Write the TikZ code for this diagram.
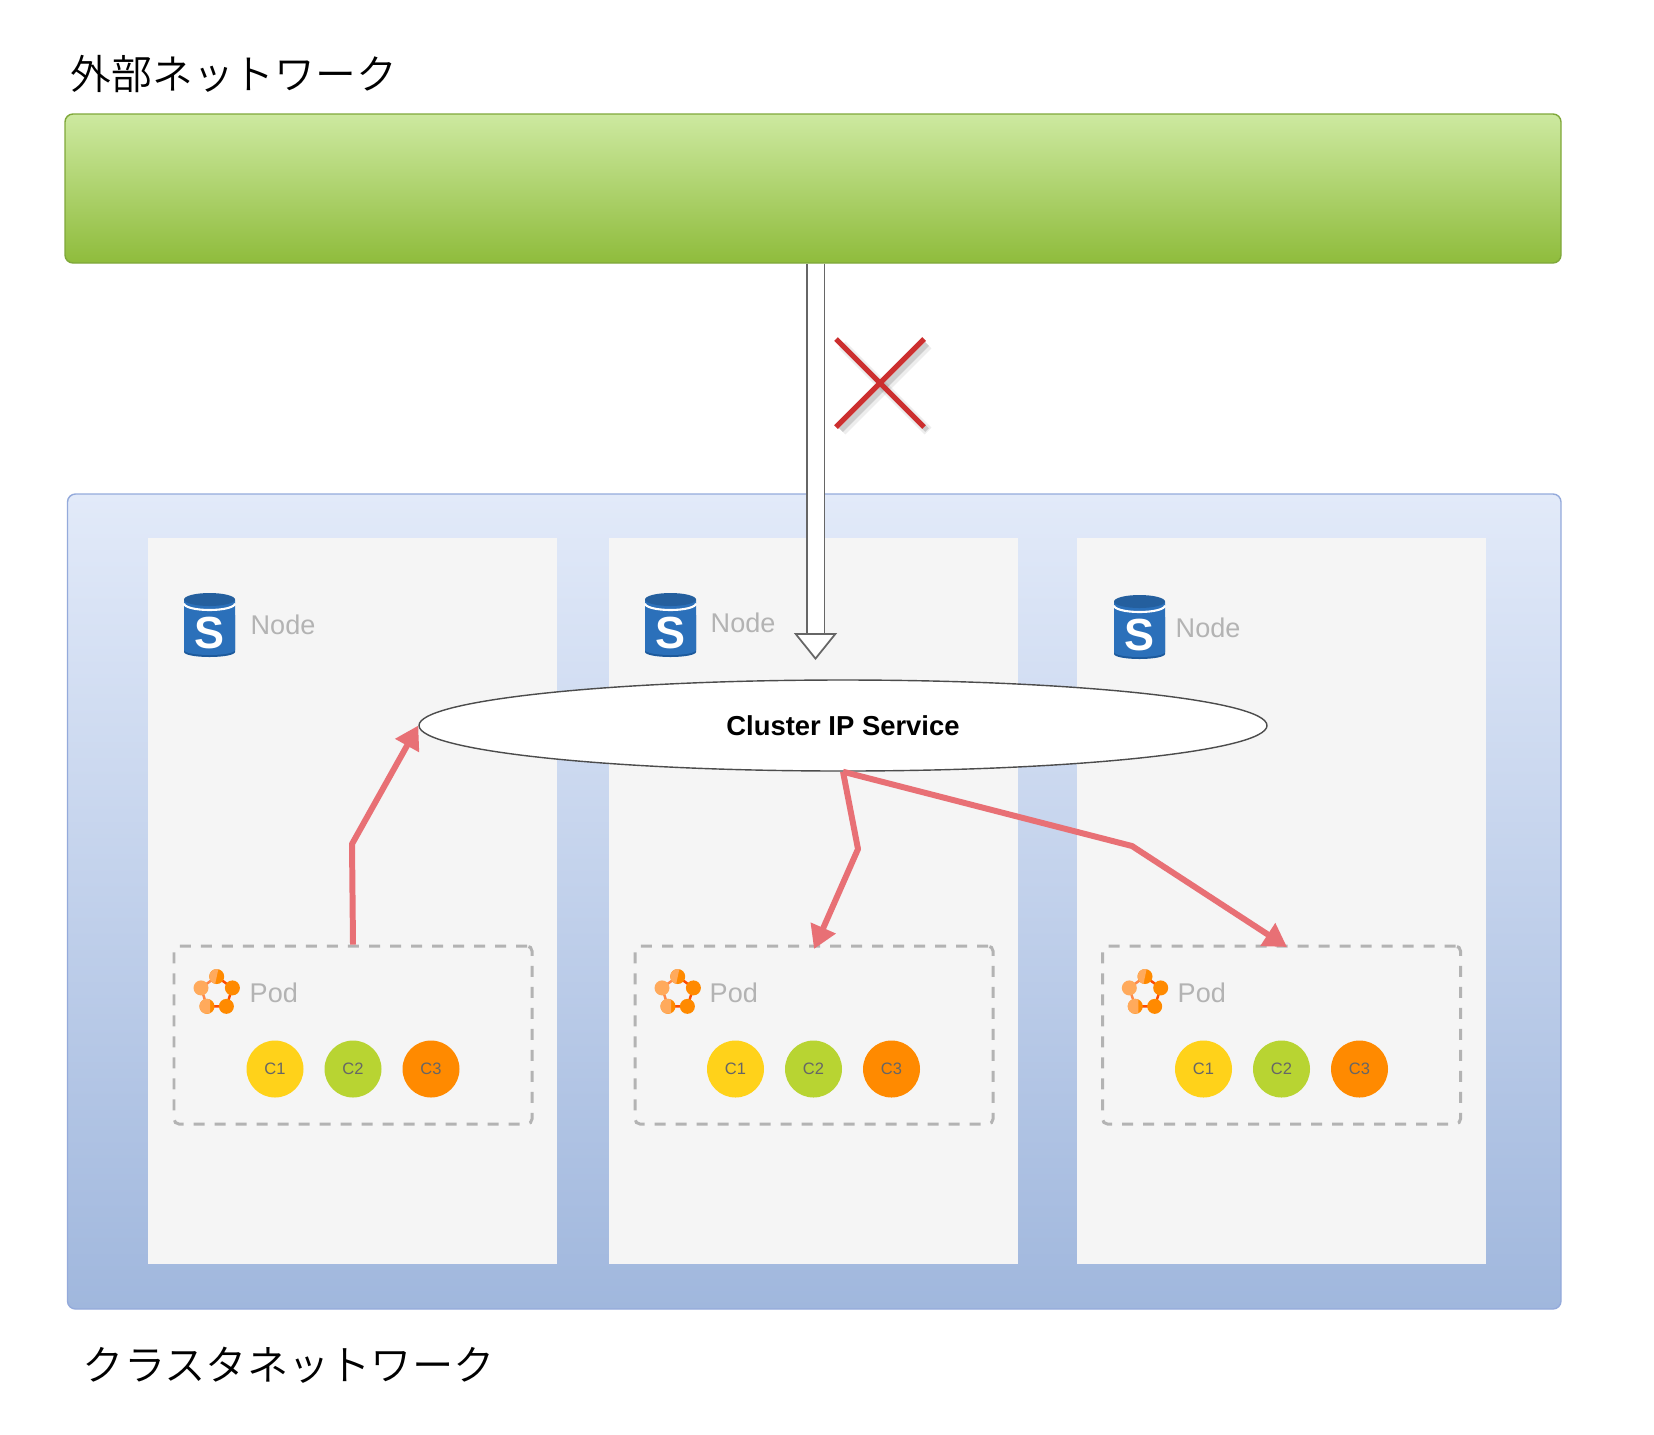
\documentclass[tikz,border=0pt]{standalone}
\usepackage{fontspec}
\setmainfont{Liberation Sans}
\newfontfamily\jpfont{Noto Sans CJK JP DemiLight}
\usepackage{tikz}
\usetikzlibrary{arrows.meta,shapes.geometric}
\definecolor{labelgray}{HTML}{B3B3B3}
\definecolor{linkred}{HTML}{E87075}
\definecolor{crossred}{HTML}{CC2F2F}
\definecolor{dbblue}{HTML}{2B70BA}
\definecolor{dbdark}{HTML}{1D5A9C}
\definecolor{podorange}{HTML}{FF8A00}
\definecolor{podlight}{HTML}{FFAA5C}
\definecolor{ctryellow}{HTML}{FFD21A}
\definecolor{ctrgreen}{HTML}{B8D432}
\tikzset{
  netlabel/.style={anchor=west, inner sep=0pt, font=\jpfont\fontsize{11.6}{14}\selectfont},
  workerbox/.style={fill=black!4, minimum width=4.09cm, minimum height=7.26cm, inner sep=0pt},
  podbox/.style={draw=labelgray, line width=.85pt, dash pattern=on .11cm off .10cm, rounded corners=.05cm, minimum width=3.58cm, minimum height=1.78cm, inner sep=0pt},
  iconlabel/.style={anchor=west, inner sep=0pt, text=labelgray, font=\fontsize{7.7}{9}\selectfont},
  ctr/.style={circle, minimum size=.57cm, inner sep=0pt, text=black!60, font=\fontsize{4.7}{6}\selectfont},
  link/.style={draw=linkred, line width=1.7pt, line join=round, -{Triangle[length=.23cm, width=.26cm]}},
  crossline/.style={crossred, line width=1.5pt},
  crosssoft/.style={black, line width=2.8pt, opacity=.07},
  crossshade/.style={black, line width=1.5pt, opacity=.14},
  dbicon/.pic={
    \fill[dbdark] (-.255,-.1) -- (-.255,.27) arc[start angle=180, end angle=0, x radius=.255, y radius=.05] -- (.255,-.1) -- cycle;
    \fill[dbblue] (-.255,-.255) -- (-.255,.25) arc[start angle=180, end angle=0, x radius=.255, y radius=.05] -- (.255,-.255) -- cycle;
    \draw[white, line width=.6pt] (-.255,-.215) arc[start angle=180, end angle=0, x radius=.255, y radius=.065];
    \fill[dbblue!85!black] (0,-.255) ellipse[x radius=.255, y radius=.065];
    \node[inner sep=0pt, text=white, font=\bfseries\fontsize{12.8}{14}\selectfont] at (0,.08) {S};
  },
  podicon/.pic={
    \draw[line width=.7pt, draw=orange!60!red] (-90:.165) -- (-18:.165) -- (54:.165) -- (126:.165);
    \draw[line width=.7pt, draw=podlight!80!red] (126:.165) -- (198:.165) -- (-90:.165);
    \fill[podorange] (-90:.165) circle[radius=.075];
    \fill[podorange] (-18:.165) circle[radius=.075];
    \fill[podorange] (54:.165) circle[radius=.075];
    \fill[podorange] (126:.165) circle[radius=.075];
    \fill[podlight] (198:.165) circle[radius=.075];
    \fill[podlight] (126:.165) ++(.03,-.069) arc[start angle=-65, end angle=-295, radius=.075] -- cycle;
    \fill[podlight] (-90:.165) ++(.016,-.073) arc[start angle=-78, end angle=-258, radius=.075] -- cycle;
  }
}
\begin{document}
\begin{tikzpicture}[x=1cm, y=-1cm]
\useasboundingbox (0,0) rectangle (16.54,14.34);
\node[netlabel] (extlabel) at (.70,.74) {外部ネットワーク};
\node[draw={rgb,255:red,127;green,168;blue,58}, line width=.4pt, rounded corners=.08cm, top color={rgb,255:red,205;green,233;blue,160}, bottom color={rgb,255:red,143;green,188;blue,60}, minimum width=14.96cm, minimum height=1.49cm, inner sep=0pt] (extnet) at (8.13,1.885) {};
\node[draw={rgb,255:red,148;green,170;blue,219}, line width=.4pt, rounded corners=.08cm, top color={rgb,255:red,226;green,234;blue,249}, bottom color={rgb,255:red,160;green,183;blue,221}, minimum width=14.935cm, minimum height=8.15cm, inner sep=0pt] (clusternet) at (8.1425,9.015) {};
\node[netlabel, font=\jpfont\fontsize{11.75}{14}\selectfont] (clusterlabel) at (.82,13.65) {クラスタネットワーク};

%worker 1
\node[workerbox] (W1) at (3.525,9.01) {};
\pic at (2.095,6.25) {dbicon};
\node[iconlabel] (W1L) at (2.50,6.25) {Node};
\node[podbox] (P1) at (3.53,10.35) {};
\pic at (2.167,9.93) {podicon};
\node[iconlabel] (P1L) at (2.49,9.93) {Pod};
\node[ctr, fill=ctryellow] (P1C1) at (2.75,10.69) {C1};
\node[ctr, fill=ctrgreen] (P1C2) at (3.53,10.69) {C2};
\node[ctr, fill=podorange] (P1C3) at (4.31,10.69) {C3};

%worker 2
\node[workerbox] (W2) at (8.135,9.01) {};
\pic at (6.705,6.25) {dbicon};
\node[iconlabel] (W2L) at (7.10,6.225) {Node};
\node[podbox] (P2) at (8.14,10.35) {};
\pic at (6.777,9.93) {podicon};
\node[iconlabel] (P2L) at (7.09,9.93) {Pod};
\node[ctr, fill=ctryellow] (P2C1) at (7.355,10.69) {C1};
\node[ctr, fill=ctrgreen] (P2C2) at (8.135,10.69) {C2};
\node[ctr, fill=podorange] (P2C3) at (8.915,10.69) {C3};

%worker 3
\node[workerbox] (W3) at (12.81,9.01) {};
\pic at (11.395,6.27) {dbicon};
\node[iconlabel] (W3L) at (11.75,6.28) {Node};
\node[podbox] (P3) at (12.815,10.35) {};
\pic at (11.45,9.93) {podicon};
\node[iconlabel] (P3L) at (11.77,9.93) {Pod};
\node[ctr, fill=ctryellow] (P3C1) at (12.035,10.69) {C1};
\node[ctr, fill=ctrgreen] (P3C2) at (12.815,10.69) {C2};
\node[ctr, fill=podorange] (P3C3) at (13.595,10.69) {C3};

%blocked way in
\coordinate (blocktip) at (8.155,6.60);
\draw[draw=black!60, line width=.5pt, double=white, double distance=.16cm, -{Triangle[open, fill=white, length=.27cm, width=.43cm, line width=.5pt]}] (extnet.south -| blocktip) -- (blocktip);
\coordinate (cross) at (8.80,3.83);
\draw[crosssoft] (cross) ++(-.38,-.38) -- ++(.86,.86);
\draw[crosssoft] (cross) ++(.48,-.38) -- ++(-.86,.86);
\draw[crossshade] (cross) ++(-.39,-.39) -- ++(.86,.86);
\draw[crossshade] (cross) ++(.47,-.39) -- ++(-.86,.86);
\draw[crossline] (cross) ++(-.44,-.44) -- ++(.88,.88);
\draw[crossline] (cross) ++(.44,-.44) -- ++(-.88,.88);

\node[draw=black!70, line width=.4pt, fill=white, ellipse, minimum width=8.48cm, minimum height=.91cm, inner sep=0pt, font=\bfseries\fontsize{7.8}{9}\selectfont] (svc) at (8.43,7.255) {Cluster IP Service};

\draw[link] (P1.north) -- (3.52,8.44) -- (svc.west);
\draw[link] (svc.south) -- (8.58,8.49) -- (8.14,9.49);
\draw[link] (svc.south) -- (11.32,8.46) -- (12.87,9.47);
\end{tikzpicture}
\end{document}
